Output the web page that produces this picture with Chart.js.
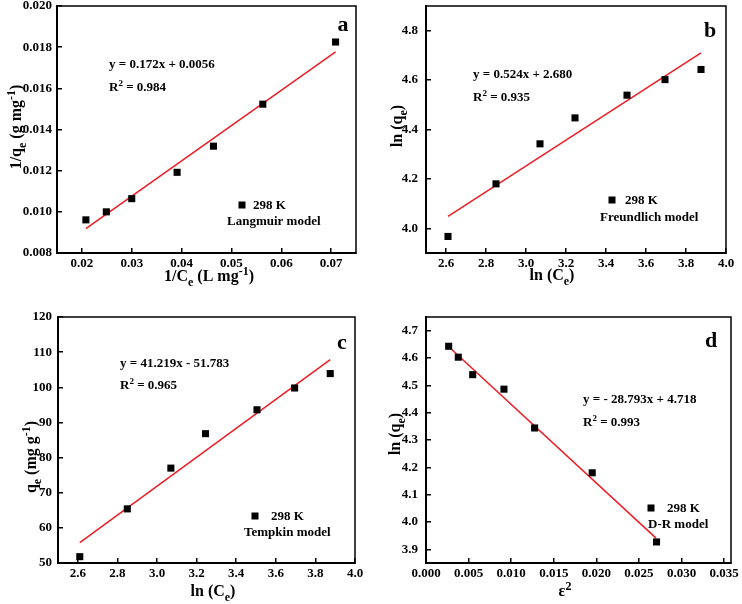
<!DOCTYPE html>
<html><head><meta charset="utf-8">
<script src="https://cdn.jsdelivr.net/npm/chart.js@4.4.0/dist/chart.umd.min.js"></script>
<style>
html,body{margin:0;padding:0;background:#fff;}
#wrap{position:relative;width:742px;height:604px;background:#fff;}
canvas{position:absolute;}
</style></head><body>
<div id="wrap">
<canvas id="ca" width="371" height="302" style="left:0;top:0"></canvas>
<canvas id="cb" width="371" height="302" style="left:371px;top:0"></canvas>
<canvas id="cc" width="371" height="302" style="left:0;top:302px"></canvas>
<canvas id="cd" width="371" height="302" style="left:371px;top:302px"></canvas>
</div>
<script>
// ---- Panel a: Langmuir ----
const langX = [0.0208, 0.0249, 0.0300, 0.0391, 0.0464, 0.0563, 0.0709];
const langY = [0.00961, 0.0100, 0.01064, 0.01192, 0.01319, 0.01523, 0.01825];
const langFitX = [0.0208, 0.0709];
const langFitY = [0.00918, 0.01777];
const langXTicks = [0.02, 0.03, 0.04, 0.05, 0.06, 0.07];
const langXLabels = ['0.02', '0.03', '0.04', '0.05', '0.06', '0.07'];
const langYTicks = [0.008, 0.010, 0.012, 0.014, 0.016, 0.018, 0.020];
const langYLabels = ['0.008', '0.010', '0.012', '0.014', '0.016', '0.018', '0.020'];

// ---- Panel b: Freundlich ----
const lnCe = [2.61, 2.85, 3.07, 3.245, 3.505, 3.695, 3.875];
const freuY = [3.967, 4.180, 4.342, 4.447, 4.539, 4.602, 4.643];
const freuFitX = [2.61, 3.875];
const freuFitY = [4.048, 4.710];
const lnXTicks = [2.6, 2.8, 3.0, 3.2, 3.4, 3.6, 3.8, 4.0];
const lnXLabels = ['2.6', '2.8', '3.0', '3.2', '3.4', '3.6', '3.8', '4.0'];
const freuYTicks = [4.0, 4.2, 4.4, 4.6, 4.8];
const freuYLabels = ['4.0', '4.2', '4.4', '4.6', '4.8'];

// ---- Panel c: Tempkin ----
const tempY = [51.8, 65.4, 77.0, 86.8, 93.6, 99.8, 103.9];
const tempFitX = [2.61, 3.875];
const tempFitY = [55.8, 107.9];
const tempYTicks = [50, 60, 70, 80, 90, 100, 110, 120];
const tempYLabels = ['50', '60', '70', '80', '90', '100', '110', '120'];

// ---- Panel d: D-R ----
const drX = [0.00266, 0.00379, 0.00548, 0.00915, 0.01275, 0.01951, 0.02706];
const drY = [4.643, 4.603, 4.539, 4.486, 4.344, 4.180, 3.927];
const drFitX = [0.0027, 0.0270];
const drFitY = [4.640, 3.941];
const drXTicks = [0, 0.005, 0.010, 0.015, 0.020, 0.025, 0.030, 0.035];
const drXLabels = ['0.000', '0.005', '0.010', '0.015', '0.020', '0.025', '0.030', '0.035'];
const drYTicks = [3.9, 4.0, 4.1, 4.2, 4.3, 4.4, 4.5, 4.6, 4.7];
const drYLabels = ['3.9', '4.0', '4.1', '4.2', '4.3', '4.4', '4.5', '4.6', '4.7'];

const FONT = '"Liberation Serif", "Times New Roman", serif';
const RED = '#ec1c24';

function drawRich(ctx, parts, x, y, size, align, rot) {
  const font = s => `bold ${s}px ${FONT}`;
  const small = Math.round(size * 0.72);
  let w = 0;
  const items = parts.map(p => {
    const s = (p.sub || p.sup) ? small : size;
    ctx.font = font(s);
    const mw = ctx.measureText(p.t).width;
    w += mw;
    return { p, s, mw };
  });
  ctx.save();
  ctx.translate(x, y);
  if (rot) ctx.rotate(rot);
  let cx = align === 'center' ? -w / 2 : 0;
  ctx.textBaseline = 'alphabetic';
  ctx.textAlign = 'left';
  ctx.fillStyle = '#000';
  const base = size * 0.33;
  for (const it of items) {
    ctx.font = font(it.s);
    let dy = base;
    if (it.p.sub) dy += size * 0.3;
    if (it.p.sup) dy -= size * 0.42;
    ctx.fillText(it.p.t, cx, dy);
    cx += it.mw;
  }
  ctx.restore();
}

const annotPlugin = {
  id: 'annot',
  afterDraw(chart, args, opts) {
    const ctx = chart.ctx, ca = chart.chartArea;
    ctx.save();
    ctx.strokeStyle = '#000';
    ctx.lineWidth = 1.5;
    ctx.strokeRect(ca.left, ca.top, ca.right - ca.left, ca.bottom - ca.top);
    for (const t of opts.texts) drawRich(ctx, t.parts, t.x, t.y, t.size, t.align || 'left', t.rot || 0);
    const m = opts.marker;
    ctx.fillStyle = '#000';
    ctx.fillRect(m.x - 3.5, m.y - 3.5, 7, 7);
    ctx.restore();
  }
};

function axis(min, max, ticks, labels, pad, isY, size) {
  return {
    type: 'linear', min, max,
    afterBuildTicks: s => { s.ticks = ticks.map(v => ({ value: v })); },
    afterFit: s => {
      if (isY) { s.width = size; } else { s.height = size; }
      s.paddingTop = 0; s.paddingBottom = 0; s.paddingLeft = 0; s.paddingRight = 0;
    },
    ticks: {
      callback: (v, i) => labels[i],
      font: { family: FONT, weight: 'bold', size: 13 },
      color: '#000', padding: pad, maxRotation: 0, autoSkip: false
    },
    grid: { drawOnChartArea: false, drawTicks: true, tickLength: -5, color: '#000', lineWidth: 1.5 },
    border: { display: true, color: '#000', width: 2 }
  };
}

function makePanel(id, p) {
  new Chart(document.getElementById(id), {
    type: 'scatter',
    data: {
      datasets: [
        { data: p.x.map((v, i) => ({ x: v, y: p.y[i] })), pointStyle: 'rect', pointRadius: 5,
          backgroundColor: '#000', borderColor: '#000', borderWidth: 0 },
        { data: p.fx.map((v, i) => ({ x: v, y: p.fy[i] })), showLine: true, borderColor: RED,
          borderWidth: 1.5, pointRadius: 0 }
      ]
    },
    options: {
      responsive: false, animation: false, devicePixelRatio: 1,
      layout: { padding: { left: 0, right: p.padR, top: p.padT, bottom: 0 } },
      plugins: { legend: { display: false }, tooltip: { enabled: false }, annot: p.annot },
      scales: {
        x: axis(p.xr[0], p.xr[1], p.xt, p.xl, 8, false, p.xH),
        y: axis(p.yr[0], p.yr[1], p.yt, p.yl, p.yPad, true, p.yW)
      }
    },
    plugins: [annotPlugin]
  });
}

const R = -Math.PI / 2;

makePanel('ca', {
  x: langX, y: langY, fx: langFitX, fy: langFitY,
  xr: [0.015, 0.075], yr: [0.008, 0.020], xt: langXTicks, xl: langXLabels, yt: langYTicks, yl: langYLabels,
  yW: 57, xH: 49, padR: 15, padT: 6, yPad: 10,
  annot: {
    marker: { x: 242, y: 205 },
    texts: [
      { parts: [{ t: 'y = 0.172x + 0.0056' }], x: 109, y: 64, size: 13 },
      { parts: [{ t: 'R' }, { t: '2', sup: true }, { t: ' = 0.984' }], x: 109, y: 87, size: 13 },
      { parts: [{ t: '298 K' }], x: 253, y: 205, size: 13 },
      { parts: [{ t: 'Langmuir model' }], x: 227, y: 221, size: 13 },
      { parts: [{ t: 'a' }], x: 343, y: 24, size: 22, align: 'center' },
      { parts: [{ t: '1/C' }, { t: 'e', sub: true }, { t: ' (L mg' }, { t: '-1', sup: true }, { t: ')' }], x: 209, y: 276, size: 16, align: 'center' },
      { parts: [{ t: '1/q' }, { t: 'e', sub: true }, { t: ' (g mg' }, { t: '-1', sup: true }, { t: ')' }], x: 16, y: 127, size: 16, align: 'center', rot: R }
    ]
  }
});

makePanel('cb', {
  x: lnCe, y: freuY, fx: freuFitX, fy: freuFitY,
  xr: [2.5, 4.0], yr: [3.9, 4.9], xt: lnXTicks, xl: lnXLabels, yt: freuYTicks, yl: freuYLabels,
  yW: 55, xH: 49, padR: 16, padT: 6, yPad: 13,
  annot: {
    marker: { x: 241, y: 200 },
    texts: [
      { parts: [{ t: 'y = 0.524x + 2.680' }], x: 102, y: 74, size: 13 },
      { parts: [{ t: 'R' }, { t: '2', sup: true }, { t: ' = 0.935' }], x: 102, y: 97, size: 13 },
      { parts: [{ t: '298 K' }], x: 254, y: 200, size: 13 },
      { parts: [{ t: 'Freundlich model' }], x: 229, y: 217, size: 13 },
      { parts: [{ t: 'b' }], x: 339, y: 30, size: 22, align: 'center' },
      { parts: [{ t: 'ln (C' }, { t: 'e', sub: true }, { t: ')' }], x: 181, y: 275, size: 16, align: 'center' },
      { parts: [{ t: 'ln (q' }, { t: 'e', sub: true }, { t: ')' }], x: 26, y: 126, size: 16, align: 'center', rot: R }
    ]
  }
});

makePanel('cc', {
  x: lnCe, y: tempY, fx: tempFitX, fy: tempFitY,
  xr: [2.5, 4.0], yr: [50, 120], xt: lnXTicks, xl: lnXLabels, yt: tempYTicks, yl: tempYLabels,
  yW: 58, xH: 41, padR: 16, padT: 15, yPad: 11,
  annot: {
    marker: { x: 255, y: 214 },
    texts: [
      { parts: [{ t: 'y = 41.219x - 51.783' }], x: 120, y: 61, size: 13 },
      { parts: [{ t: 'R' }, { t: '2', sup: true }, { t: ' = 0.965' }], x: 120, y: 83, size: 13 },
      { parts: [{ t: '298 K' }], x: 271, y: 214, size: 13 },
      { parts: [{ t: 'Tempkin model' }], x: 244, y: 230, size: 13 },
      { parts: [{ t: 'c' }], x: 342, y: 40, size: 22, align: 'center' },
      { parts: [{ t: 'ln (C' }, { t: 'e', sub: true }, { t: ')' }], x: 213, y: 289, size: 16, align: 'center' },
      { parts: [{ t: 'q' }, { t: 'e', sub: true }, { t: ' (mg g' }, { t: '-1', sup: true }, { t: ')' }], x: 31, y: 155, size: 16, align: 'center', rot: R }
    ]
  }
});

makePanel('cd', {
  x: drX, y: drY, fx: drFitX, fy: drFitY,
  xr: [0, 0.0358], yr: [3.85, 4.75], xt: drXTicks, xl: drXLabels, yt: drYTicks, yl: drYLabels,
  yW: 55, xH: 41, padR: 11, padT: 15, yPad: 13,
  annot: {
    marker: { x: 280, y: 206 },
    texts: [
      { parts: [{ t: 'y = - 28.793x + 4.718' }], x: 212, y: 97, size: 13 },
      { parts: [{ t: 'R' }, { t: '2', sup: true }, { t: ' = 0.993' }], x: 212, y: 120, size: 13 },
      { parts: [{ t: '298 K' }], x: 296, y: 206, size: 13 },
      { parts: [{ t: 'D-R model' }], x: 277, y: 222, size: 13 },
      { parts: [{ t: 'd' }], x: 340, y: 38, size: 22, align: 'center' },
      { parts: [{ t: 'ε' }, { t: '2', sup: true }], x: 194, y: 289, size: 16, align: 'center' },
      { parts: [{ t: 'ln (q' }, { t: 'e', sub: true }, { t: ')' }], x: 24, y: 132, size: 16, align: 'center', rot: R }
    ]
  }
});
</script>
</body></html>
